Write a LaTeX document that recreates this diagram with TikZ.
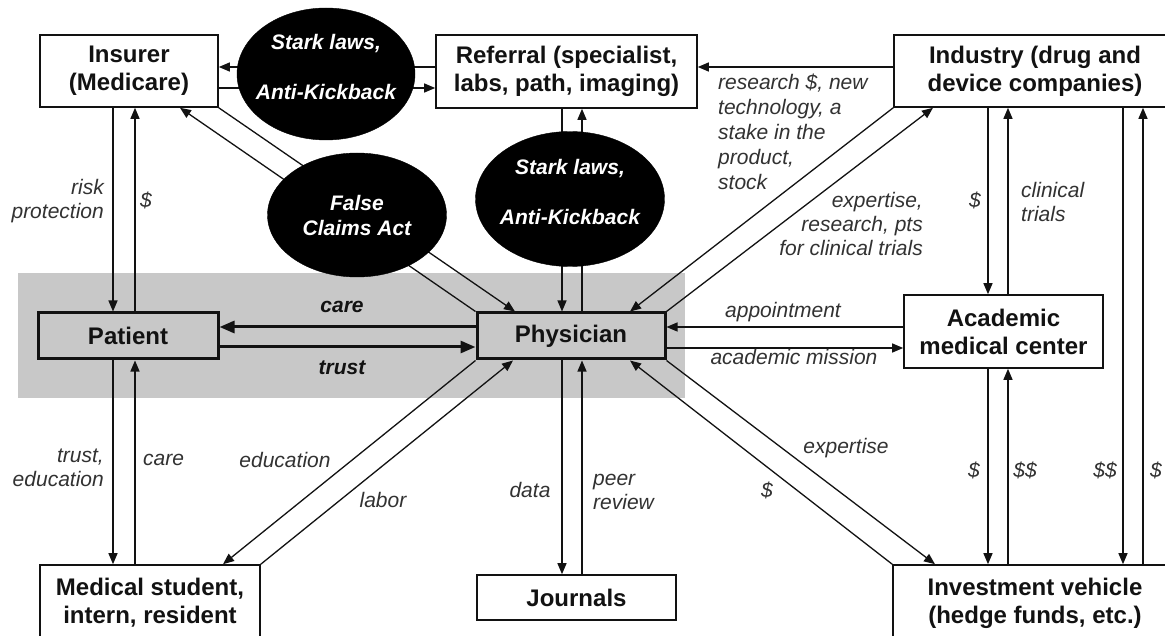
\documentclass[tikz,border=0pt]{standalone}
\usepackage{fontspec}
\setmainfont{Liberation Sans}
\usetikzlibrary{arrows.meta,shapes.geometric}
\definecolor{bg}{RGB}{200,200,200}
\definecolor{lab}{RGB}{50,50,50}
\definecolor{ink}{RGB}{18,18,18}
\begin{document}
\begin{tikzpicture}[x=1pt,y=-1pt,
 box/.style={draw=ink,line width=1.6pt,fill=white,font=\fontsize{24}{28}\selectfont\bfseries,text=ink,align=center,inner sep=0pt},
 keybox/.style={box,line width=3pt,fill=bg},
 law/.style={ellipse,fill=black,draw=black,inner sep=0pt},
 lawtext/.style={text=white,font=\fontsize{21}{25}\selectfont\bfseries\itshape,align=center,inner sep=0pt},
 lbl/.style={text=lab,font=\fontsize{21}{24}\selectfont\itshape,inner sep=0pt},
 blbl/.style={text=ink,font=\fontsize{21}{24}\selectfont\bfseries\itshape,inner sep=0pt},
 arr/.style={draw=ink,line width=1.3pt,-{Triangle[length=11pt,width=9pt]}},
 thickarr/.style={draw=ink,line width=3pt,-{Triangle[length=15pt,width=12pt]}},
]
\useasboundingbox (0,0) rectangle (1165,636);
\clip (0,0) rectangle (1165,636);
\fill[white] (0,0) rectangle (1165,636);
% shaded band
\fill[bg] (18,273) rectangle (685,398);

% boxes
\node[box,minimum width=178pt,minimum height=72pt] (ins) at (129,71) {Insurer\\(Medicare)};
\node[box,minimum width=261pt,minimum height=73pt] (ref) at (566.5,71.5) {Referral (specialist,\\labs, path, imaging)};
\node[box,minimum width=282pt,minimum height=72pt] (ind) at (1035,71) {Industry (drug and\\device companies)};
\node[keybox,minimum width=180pt,minimum height=46pt] (pat) at (128,336) {Patient};
\node[keybox,minimum width=188pt,minimum height=46pt] (phy) at (571,336) {Physician};
\node[box,minimum width=199pt,minimum height=73pt] (amc) at (1003.5,331.5) {Academic\\medical center};
\node[box,minimum width=220pt,minimum height=76pt] (med) at (150,603) {Medical student,\\intern, resident};
\node[box,minimum width=199pt,minimum height=45pt] (jou) at (576.5,597.5) {Journals};
\node[box,minimum width=284pt,minimum height=76pt] (inv) at (1035,603) {Investment vehicle\\(hedge funds, etc.)};

% connectors
\draw[arr] (ref.west |- 0,67) -- (ins.east |- 0,67);
\draw[arr] (ins.east |- 0,88) -- (ref.west |- 0,88);
\draw[arr] (ind.west |- 0,67) -- (ref.east |- 0,67);
\draw[arr] (ref.south -| 562,0) -- (phy.north -| 562,0);
\draw[arr] (phy.north -| 582,0) -- (ref.south -| 582,0);
\draw[arr] (ins.south -| 113,0) -- (pat.north -| 113,0);
\draw[arr] (pat.north -| 135,0) -- (ins.south -| 135,0);
\draw[arr] (pat.south -| 113,0) -- (med.north -| 113,0);
\draw[arr] (med.north -| 135,0) -- (pat.south -| 135,0);
\draw[thickarr] (phy.west |- 0,327) -- (pat.east |- 0,327);
\draw[thickarr] (pat.east |- 0,347) -- (phy.west |- 0,347);
\draw[arr] (ins.south east) -- (phy.north -| 515,0);
\draw[arr] (phy.north west) -- (ins.south -| 180,0);
\draw[arr] (phy.south west) -- (med.north -| 223,0);
\draw[arr] (med.north east) -- (phy.south -| 513,0);
\draw[arr] (phy.south -| 562,0) -- (jou.north -| 562,0);
\draw[arr] (jou.north -| 582,0) -- (phy.south -| 582,0);
\draw[arr] (ind.south west) -- (phy.north -| 630,0);
\draw[arr] (phy.north east) -- (ind.south -| 933,0);
\draw[arr] (amc.west |- 0,327) -- (phy.east |- 0,327);
\draw[arr] (phy.east |- 0,348) -- (amc.west |- 0,348);
\draw[arr] (phy.south east) -- (inv.north -| 935,0);
\draw[arr] (inv.north west) -- (phy.south -| 630,0);
\draw[arr] (ind.south -| 988,0) -- (amc.north -| 988,0);
\draw[arr] (amc.north -| 1008,0) -- (ind.south -| 1008,0);
\draw[arr] (amc.south -| 988,0) -- (inv.north -| 988,0);
\draw[arr] (inv.north -| 1008,0) -- (amc.south -| 1008,0);
\draw[arr] (ind.south -| 1123,0) -- (inv.north -| 1123,0);
\draw[arr] (inv.north -| 1143,0) -- (ind.south -| 1143,0);

% law ellipses
\node[law,minimum width=178pt,minimum height=132pt] (sk1) at (326,74) {};
\node[law,minimum width=189pt,minimum height=135pt] (sk2) at (570,199) {};
\node[law,minimum width=179pt,minimum height=124pt] (fca) at (357,215) {};
\node[lawtext,yshift=7pt] (sk1t) at (sk1.center) {Stark laws,\\[25pt]Anti-Kickback};
\node[lawtext,yshift=7pt] (sk2t) at (sk2.center) {Stark laws,\\[25pt]Anti-Kickback};
\node[lawtext] (fcat) at (fca.center) {False\\Claims Act};

% labels
\node[lbl,anchor=east,align=right] (l1) at (104,201.5) {risk\\protection};
\node[lbl] (l2) at (146,200) {\$};
\node[lbl,anchor=east,align=right] (l3) at (104,468) {trust,\\education};
\node[lbl,anchor=west] (l4) at (143,460) {care};
\node[lbl] (l5) at (285,460) {education};
\node[lbl] (l6) at (383,500) {labor};
\node[lbl] (l7) at (530,490) {data};
\node[lbl,anchor=west,align=left] (l8) at (593,492) {peer\\review};
\node[lbl] (l9) at (767,490) {\$};
\node[lbl] (l10) at (846,448) {expertise};
\node[lbl] (l11) at (783,312) {appointment};
\node[lbl] (l12) at (794,357) {academic mission};
\node[lbl,anchor=west,align=left,font=\fontsize{21}{25}\selectfont\itshape] (l13) at (718,132) {research \$, new\\technology, a\\stake in the\\product,\\stock};
\node[lbl,anchor=east,align=right] (l14) at (923,224) {expertise,\\research, pts\\for clinical trials};
\node[lbl] (l15) at (975,200) {\$};
\node[lbl,anchor=west,align=left] (l16) at (1021,202) {clinical\\trials};
\node[lbl] (l17) at (974,470) {\$};
\node[lbl] (l18) at (1025,470) {\$\$};
\node[lbl] (l19) at (1105,470) {\$\$};
\node[lbl,anchor=west] (l20) at (1150,470) {\$};
\node[blbl] (care) at (342,307) {care};
\node[blbl] (trust) at (342,368) {trust};
\end{tikzpicture}
\end{document}
